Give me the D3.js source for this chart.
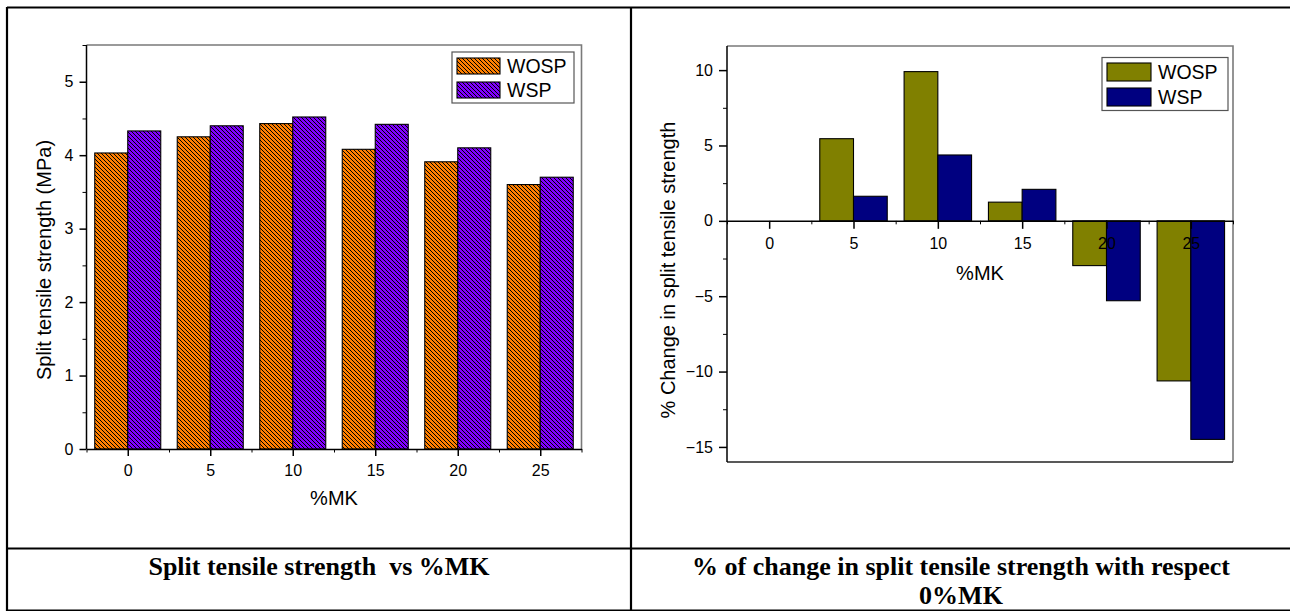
<!DOCTYPE html>
<html>
<head>
<meta charset="utf-8">
<script src="https://cdn.jsdelivr.net/npm/d3@7"></script>
<style>
html,body{margin:0;padding:0;background:#fff;}
svg{display:block;}
text{font-family:"Liberation Sans",Arial,sans-serif;fill:#000;}
.cap{font-family:"Liberation Serif","Times New Roman",serif;font-weight:bold;white-space:pre;}
</style>
</head>
<body>
<svg id="c" width="1290" height="611"></svg>
<script>
// ---- data ----
const categories = [0, 5, 10, 15, 20, 25];
const seriesNames = ["WOSP", "WSP"];
const tensileWOSP = [4.03, 4.25, 4.43, 4.08, 3.91, 3.60];
const tensileWSP  = [4.33, 4.40, 4.52, 4.42, 4.10, 3.70];
const changeWOSP = [0, 5.45, 9.90, 1.24, -2.97, -10.62];
const changeWSP  = [0, 1.63, 4.37, 2.09, -5.30, -14.50];
const leftYTicks = [0, 1, 2, 3, 4, 5];
const leftYMinor = [0.5, 1.5, 2.5, 3.5, 4.5, 5.5];
const rightYTicks = [-15, -10, -5, 0, 5, 10];
const rightYMinor = [-12.5, -7.5, -2.5, 2.5, 7.5];
const xMinor = [-2.5, 2.5, 7.5, 12.5, 17.5, 22.5, 27.5];
const leftCaption = "Split tensile strength  vs %MK";
const rightCaption = ["% of change in split tensile strength with respect", "0%MK"];

const svg = d3.select("#c");

// hatch patterns
const defs = svg.append("defs");
function hatch(id, color) {
  const p = defs.append("pattern").attr("id", id).attr("patternUnits", "userSpaceOnUse")
    .attr("width", 4).attr("height", 4);
  p.append("rect").attr("width", 4).attr("height", 4).attr("fill", color);
  p.append("path").attr("d", "M-1,-1L5,5M3,-1L5,1M-1,3L1,5")
    .attr("stroke", "#000").attr("stroke-width", 1.0);
}
hatch("hOrange", "#FF8000");
hatch("hPurple", "#8000FF");

// table lines
const tbl = svg.append("g").attr("stroke", "#000").attr("stroke-width", 2.2).attr("fill", "none");
tbl.append("line").attr("x1", 7).attr("x2", 1300).attr("y1", 7.5).attr("y2", 7.5);
tbl.append("line").attr("x1", 7).attr("x2", 7).attr("y1", 7).attr("y2", 611);
tbl.append("line").attr("x1", 631).attr("x2", 631).attr("y1", 7).attr("y2", 611);
tbl.append("line").attr("x1", 7).attr("x2", 1300).attr("y1", 548.5).attr("y2", 548.5);
tbl.append("line").attr("x1", 7).attr("x2", 1300).attr("y1", 610.5).attr("y2", 610.5);

// captions
svg.append("text").attr("class", "cap").attr("x", 319).attr("y", 575)
  .attr("text-anchor", "middle").style("font-size", "26px").text(leftCaption);
svg.selectAll("text.rcap").data(rightCaption).join("text").attr("class", "cap rcap")
  .attr("x", 961).attr("y", (d, i) => 575 + i * 28.5)
  .attr("text-anchor", "middle").style("font-size", "26px").text(d => d);

function drawChart(cfg) {
  const g = svg.append("g");
  const x = d3.scaleLinear().domain([-2.5, 27.5]).range([cfg.left, cfg.right]);
  const y = d3.scaleLinear().domain(cfg.yDomain).range([cfg.bottom, cfg.top]);
  // frame (top/right gray)
  g.append("path").attr("d", `M${cfg.left},${cfg.top}H${cfg.right}V${cfg.bottom}`)
    .attr("fill", "none").attr("stroke", "#7a7a7a").attr("stroke-width", 1.6);
  if (cfg.bottomFrame) {
    g.append("line").attr("x1", cfg.left).attr("x2", cfg.right).attr("y1", cfg.bottom).attr("y2", cfg.bottom)
      .attr("stroke", "#222").attr("stroke-width", 1.5);
  }
  // bars
  const bw = 2;
  cfg.series.forEach((vals, si) => {
    g.append("g").selectAll("rect").data(categories.map((c, i) => ({c, v: vals[i]}))).join("rect")
      .attr("x", d => x(si === 0 ? d.c - bw : d.c))
      .attr("width", d => x(d.c + bw) - x(d.c))
      .attr("y", d => y(Math.max(0, d.v)))
      .attr("height", d => Math.abs(y(d.v) - y(0)))
      .attr("fill", cfg.fills[si])
      .attr("stroke", "#000").attr("stroke-width", 1.1);
  });
  // y axis
  const ya = g.append("g").attr("transform", `translate(${cfg.left},0)`)
    .call(d3.axisLeft(y).tickValues(cfg.yTicks).tickFormat(d3.format("d")).tickSize(cfg.tickLen).tickSizeOuter(0).tickPadding(6));
  g.append("g").attr("transform", `translate(${cfg.left},0)`)
    .call(d3.axisLeft(y).tickValues(cfg.yMinor).tickFormat("").tickSize(4).tickSizeOuter(0))
    .select(".domain").remove();
  ya.select(".domain").attr("d", `M0,${cfg.top}V${cfg.bottom}`);
  // x axis
  const xy = y(0);
  const xa = g.append("g").attr("transform", `translate(0,${xy})`)
    .call(d3.axisBottom(x).tickValues(categories).tickFormat(d3.format("d")).tickSize(cfg.tickLen).tickSizeOuter(0).tickPadding(cfg.xPad));
  g.append("g").attr("transform", `translate(0,${xy})`)
    .call(d3.axisBottom(x).tickValues(xMinor).tickFormat("").tickSize(3.5).tickSizeOuter(0))
    .select(".domain").remove();
  [ya, xa].forEach(a => {
    a.selectAll("text").style("font-size", "16px").style("font-family", '"Liberation Sans",Arial,sans-serif').attr("fill", "#000");
    a.selectAll("line,path").attr("stroke", "#000").attr("stroke-width", 1.5);
  });
  // titles
  g.append("text").attr("x", (cfg.left + cfg.right) / 2).attr("y", cfg.xTitleY)
    .attr("text-anchor", "middle").style("font-size", "20px").text("%MK");
  g.append("text").attr("transform", `translate(${cfg.yTitleX},${cfg.yTitleY}) rotate(-90)`)
    .attr("text-anchor", "middle").style("font-size", "20px").text(cfg.yTitle);
  // legend
  const L = cfg.legend;
  g.append("rect").attr("x", L.x).attr("y", L.y).attr("width", L.w).attr("height", L.h)
    .attr("fill", "#fff").attr("stroke", "#555").attr("stroke-width", 1.2);
  seriesNames.forEach((n, i) => {
    g.append("rect").attr("x", L.x + 5).attr("y", L.y + L.sy + i * L.step).attr("width", L.sw).attr("height", L.sh)
      .attr("fill", cfg.fills[i]).attr("stroke", "#000").attr("stroke-width", 1.1);
    g.append("text").attr("x", L.x + L.sw + 12).attr("y", L.y + L.sy + i * L.step + L.sh / 2 + 7)
      .style("font-size", "19.5px").text(n);
  });
}

drawChart({
  left: 86.5, right: 581.5, top: 45, bottom: 449, yDomain: [0, 5.5],
  series: [tensileWOSP, tensileWSP], fills: ["url(#hOrange)", "url(#hPurple)"],
  yTicks: leftYTicks, yMinor: leftYMinor, tickLen: 7, xPad: 9,
  xTitleY: 505, yTitleX: 51, yTitleY: 260, yTitle: "Split tensile strength (MPa)",
  legend: {x: 452, y: 52, w: 122, h: 51, sy: 6, step: 24, sw: 43, sh: 16},
  bottomFrame: false
});

drawChart({
  left: 727, right: 1233, top: 46, bottom: 462, yDomain: [-16, 11.6],
  series: [changeWOSP, changeWSP], fills: ["#808000", "#000080"],
  yTicks: rightYTicks, yMinor: rightYMinor, tickLen: 8, xPad: 9,
  xTitleY: 280, yTitleX: 675, yTitleY: 270, yTitle: "% Change in split tensile strength",
  legend: {x: 1102, y: 57.5, w: 126, h: 53, sy: 5.5, step: 25, sw: 44, sh: 18},
  bottomFrame: true
});
</script>
</body>
</html>
